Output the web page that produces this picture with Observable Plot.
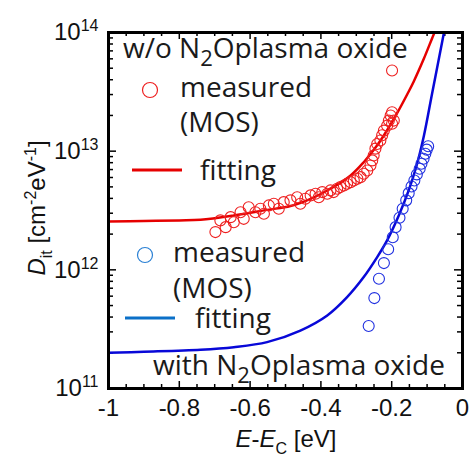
<!DOCTYPE html>
<html><head><meta charset="utf-8">
<script src="https://cdn.jsdelivr.net/npm/d3@7"></script>
<script src="https://cdn.jsdelivr.net/npm/@observablehq/plot@0.6"></script>
<style>body{margin:0;background:#fff}</style>
</head><body><div id="chart"></div>
<script>
// ---- data ----
const redFitX = [-1, -0.9, -0.8, -0.74, -0.646, -0.552, -0.486, -0.429, -0.373, -0.316, -0.279, -0.241, -0.213, -0.184, -0.156, -0.138, -0.109, -0.086, -0.079];
const redFitY = [2.56e12, 2.58e12, 2.61e12, 2.64e12, 2.87e12, 3.2e12, 3.45e12, 3.97e12, 4.82e12, 6.24e12, 8.07e12, 1.12e13, 1.5e13, 2.11e13, 3.02e13, 3.85e13, 6.03e13, 8.91e13, 1.0e14];
const blueFitX = [-1, -0.9, -0.74, -0.646, -0.552, -0.458, -0.382, -0.326, -0.279, -0.241, -0.213, -0.18, -0.152, -0.13, -0.109, -0.086, -0.053];
const blueFitY = [2.0e11, 2.04e11, 2.12e11, 2.23e11, 2.46e11, 3.08e11, 4.13e11, 5.89e11, 8.69e11, 1.28e12, 1.77e12, 2.87e12, 4.67e12, 7.5e12, 1.35e13, 3.05e13, 9.75e13];
const redMeasX = [-0.698, -0.684, -0.669, -0.655, -0.646, -0.627, -0.618, -0.604, -0.585, -0.571, -0.561, -0.547, -0.533, -0.519, -0.505, -0.486, -0.467, -0.458, -0.444, -0.429, -0.415, -0.406, -0.396, -0.382, -0.373, -0.364, -0.354, -0.345, -0.335, -0.326, -0.316, -0.307, -0.297, -0.288, -0.279, -0.269, -0.26, -0.255, -0.251, -0.246, -0.241, -0.232, -0.227, -0.222, -0.213, -0.208, -0.203, -0.199, -0.199, -0.194, -0.199];
const redMeasY = [2.08e12, 2.61e12, 2.29e12, 2.78e12, 2.52e12, 3.06e12, 2.69e12, 3.37e12, 3.06e12, 3.27e12, 2.97e12, 3.49e12, 3.61e12, 3.27e12, 3.72e12, 3.85e12, 4.09e12, 3.61e12, 3.97e12, 4.24e12, 4.38e12, 4.09e12, 4.52e12, 4.38e12, 4.67e12, 4.52e12, 4.82e12, 4.98e12, 5.14e12, 5.31e12, 5.48e12, 5.66e12, 5.85e12, 6.04e12, 6.45e12, 6.88e12, 7.58e12, 8.36e12, 9.2e12, 1.05e13, 1.15e13, 1.23e13, 1.36e13, 1.49e13, 1.64e13, 1.81e13, 2.0e13, 2.13e13, 1.7e13, 1.81e13, 4.79e13];
const blueMeasX = [-0.265, -0.249, -0.236, -0.222, -0.21, -0.197, -0.189, -0.178, -0.169, -0.159, -0.152, -0.144, -0.136, -0.129, -0.121, -0.116, -0.11, -0.105, -0.101, -0.097];
const blueMeasY = [3.36e11, 5.78e11, 8.41e11, 1.14e12, 1.49e12, 1.88e12, 2.29e12, 2.75e12, 3.27e12, 3.85e12, 4.43e12, 5.04e12, 5.66e12, 6.37e12, 7.11e12, 7.83e12, 8.63e12, 9.51e12, 1.03e13, 1.1e13];
const xTickLabels = [-1, -0.8, -0.6, -0.4, -0.2, 0];
const yTickLabels = [1e11, 1e12, 1e13, 1e14];

const redFit = redFitX.map((x, i) => ({x, y: redFitY[i]}));
const blueFit = blueFitX.map((x, i) => ({x, y: blueFitY[i]}));
const redMeas = redMeasX.map((x, i) => ({x, y: redMeasY[i]}));
const blueMeas = blueMeasX.map((x, i) => ({x, y: blueMeasY[i]}));

const W = 471, H = 457, mL = 108, mR = 9, mT = 32, mB = 69;
const pw = W - mL - mR, ph = H - mT - mB;
const xMinor = d3.range(0, 21).map(i => (i * 5 - 100) / 100).filter(v => !xTickLabels.some(m => Math.abs(m - v) < 1e-9));
const yMinor = [];
for (const e of [11, 12, 13]) for (let k = 2; k <= 9; k++) yMinor.push(k * Math.pow(10, e));

const tk = {stroke: "black", strokeWidth: 1.5};
const plot = Plot.plot({
  width: W, height: H,
  marginLeft: mL, marginRight: mR, marginTop: mT, marginBottom: mB,
  style: {fontFamily: "'Liberation Sans', Arial, sans-serif", fontSize: "24px", color: "#111", background: "white"},
  x: {domain: [-1, 0]},
  y: {type: "log", domain: [1e11, 1e14]},
  marks: [
    Plot.tickX(xTickLabels, {x: d => d, insetTop: ph - 7, ...tk}),
    Plot.tickX(xMinor, {x: d => d, insetTop: ph - 4, ...tk}),
    Plot.tickX(xTickLabels, {x: d => d, insetBottom: ph - 7, ...tk}),
    Plot.tickX(xMinor, {x: d => d, insetBottom: ph - 4, ...tk}),
    Plot.tickY(yTickLabels, {y: d => d, insetRight: pw - 8, ...tk}),
    Plot.tickY(yMinor, {y: d => d, insetRight: pw - 5, ...tk}),
    Plot.tickY(yTickLabels, {y: d => d, insetLeft: pw - 8, ...tk}),
    Plot.tickY(yMinor, {y: d => d, insetLeft: pw - 5, ...tk}),
    Plot.line(redFit, {x: "x", y: "y", stroke: "#e60000", strokeWidth: 2.5, curve: "catmull-rom", clip: true}),
    Plot.line(blueFit, {x: "x", y: "y", stroke: "#0808d8", strokeWidth: 2.5, curve: "catmull-rom", clip: true}),
    Plot.dot(redMeas, {x: "x", y: "y", r: 5.5, stroke: "#ee2020", strokeWidth: 1.1}),
    Plot.dot(blueMeas, {x: "x", y: "y", r: 5.5, stroke: "#2030e0", strokeWidth: 1.1}),
    Plot.frame({stroke: "black", strokeWidth: 3}),
    Plot.axisX(xTickLabels, {tickSize: 0, tickPadding: 10, tickFormat: d => String(d), label: null}),
    Plot.axisY(yTickLabels, {tickSize: 0, tickPadding: 10, tickFormat: d => String(Math.round(Math.log10(d))), label: null})
  ]
});
document.getElementById("chart").appendChild(plot);

const svg = d3.select(plot);
// superscript exponents for y tick labels
svg.selectAll('g[aria-label="y-axis tick label"] text').each(function() {
  const e = this.textContent;
  const t = d3.select(this);
  t.text(null);
  t.append("tspan").text("10");
  t.append("tspan").attr("dy", -9).attr("font-size", 16).text(e);
});

// axis titles
const yl = svg.append("text").attr("transform", "translate(45,208) rotate(-90)")
  .attr("text-anchor", "middle").attr("font-size", 24).attr("fill", "#111");
yl.append("tspan").attr("font-style", "italic").text("D");
yl.append("tspan").attr("dy", 7).attr("font-size", 16).text("it");
yl.append("tspan").attr("dy", -7).text(" [cm");
yl.append("tspan").attr("dy", -9).attr("font-size", 16).text("-2");
yl.append("tspan").attr("dy", 9).text("eV");
yl.append("tspan").attr("dy", -9).attr("font-size", 16).text("-1");
yl.append("tspan").attr("dy", 9).text("]");

const xl = svg.append("text").attr("x", 286).attr("y", 447)
  .attr("text-anchor", "middle").attr("font-size", 24).attr("fill", "#111");
xl.append("tspan").attr("font-style", "italic").text("E");
xl.append("tspan").text("-");
xl.append("tspan").attr("font-style", "italic").text("E");
xl.append("tspan").attr("dy", 7).attr("font-size", 16).text("C");
xl.append("tspan").attr("dy", -7).text(" [eV]");

// legend
const lf = "'Open Sans', 'Noto Sans', sans-serif";
function n2o(x, y, prefix) {
  const t = svg.append("text").attr("x", x).attr("y", y).attr("font-family", lf)
    .attr("text-anchor", "start").attr("font-size", 28).attr("fill", "#1a1a1a");
  t.append("tspan").text(prefix + "N");
  t.append("tspan").attr("dy", 8).attr("font-size", 22).text("2");
  t.append("tspan").attr("dy", -8).text("Oplasma oxide");
}
function txt(x, y, s) {
  svg.append("text").attr("x", x).attr("y", y).attr("font-family", lf)
    .attr("text-anchor", "start").attr("font-size", 28).attr("fill", "#1a1a1a").text(s);
}
n2o(123, 58, "w/o ");
svg.append("circle").attr("cx", 150).attr("cy", 90).attr("r", 7.5).attr("fill", "none").attr("stroke", "#ee2020").attr("stroke-width", 1.2);
txt(180, 97, "measured");
txt(180, 132, "(MOS)");
svg.append("line").attr("x1", 132).attr("x2", 182).attr("y1", 170).attr("y2", 170).attr("stroke", "#e60000").attr("stroke-width", 3);
txt(200, 180, "fitting");
svg.append("circle").attr("cx", 145).attr("cy", 255).attr("r", 7.5).attr("fill", "none").attr("stroke", "#2a80d4").attr("stroke-width", 1.2);
txt(173, 262, "measured");
txt(173, 298, "(MOS)");
svg.append("line").attr("x1", 125).attr("x2", 175).attr("y1", 318).attr("y2", 318).attr("stroke", "#0b70c8").attr("stroke-width", 3);
txt(195, 328, "fitting");
n2o(153, 375, "with ");
</script>
</body></html>
